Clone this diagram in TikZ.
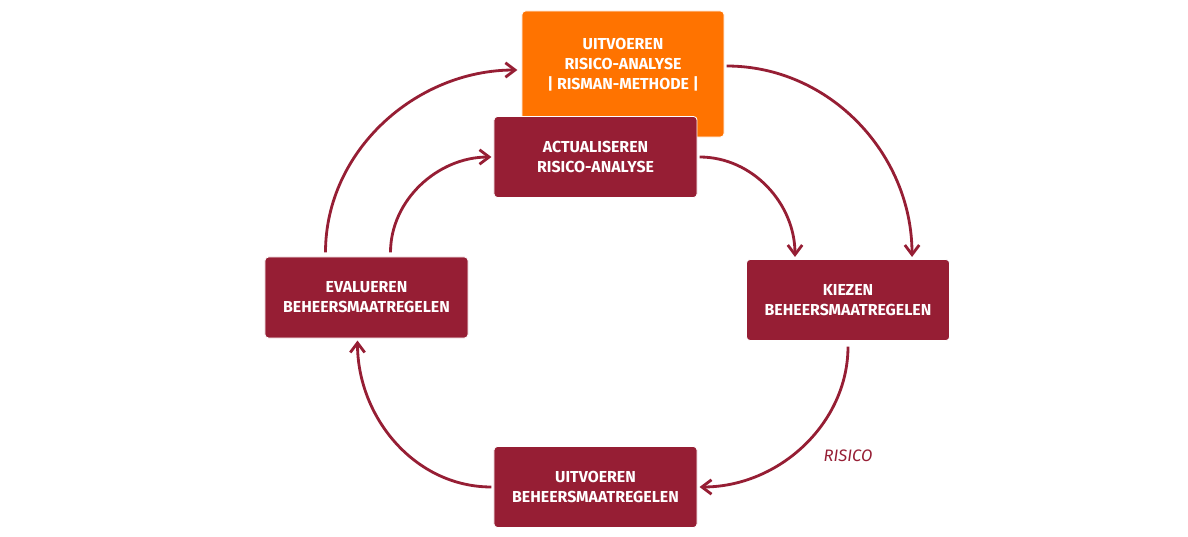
\documentclass[tikz,border=0pt]{standalone}
\usepackage{fontspec}
\setmainfont{Fira Sans}
\usetikzlibrary{arrows.meta}
\definecolor{risorange}{HTML}{FF7300}
\definecolor{risred}{HTML}{961E34}
\begin{document}
\begin{tikzpicture}[
	x=0.025cm, y=-0.025cm,
	% Define the styles for the boxes and arrows
	box/.style={rectangle, draw=white, line width=0.6pt, rounded corners=2.5pt, fill=risred,
		minimum width=5.075cm, minimum height=2.025cm},
	boxtext/.style={text=white, align=center, font=\bfseries\fontsize{11.3}{14.2}\selectfont},
	flow/.style={risred, line width=2pt, -{Straight Barb[length=2.4mm, width=3.6mm]},
		shorten <=1.5pt, shorten >=1.5pt}
	]
	\useasboundingbox (0,0) rectangle (1188,537);
	
	% --- BOXES ---
	% Format: \node (internal_name) at (x,y) [style] {text};
	
	\node (analyse) at (623,74) [box, fill=risorange, minimum width=5.05cm, minimum height=3.15cm] {};
	\node (analysetext) at (623,65) [boxtext] {UITVOEREN\\RISICO-ANALYSE\\| RISMAN-METHODE |};
	\node (actual) at (595.5,157) [box, boxtext] {ACTUALISEREN\\RISICO-ANALYSE};
	\node (kiezen) at (848,300) [box, boxtext] {KIEZEN\\BEHEERSMAATREGELEN};
	\node (uitvoer) at (595.5,487) [box, boxtext] {UITVOEREN\\BEHEERSMAATREGELEN};
	\node (evalueer) at (366.5,297.5) [box, boxtext] {EVALUEREN\\BEHEERSMAATREGELEN};
	
	% --- ARROWS ---
	
	\draw[flow] ([yshift=0.2cm]analyse.east) to[out=0, in=90] ([xshift=1.6cm]kiezen.north);
	\draw[flow] (actual.east) to[out=0, in=90] ([xshift=-1.325cm]kiezen.north);
	\draw[flow, shorten <=4pt] (kiezen.south) to[out=-90, in=0] (uitvoer.east);
	\draw[flow] (uitvoer.west) to[out=180, in=-90] ([xshift=-0.225cm]evalueer.south);
	\draw[flow, shorten <=3pt, shorten >=3pt] ([xshift=-1.025cm]evalueer.north) to[out=90, in=180] ([yshift=0.1cm]analyse.west);
	\draw[flow, shorten <=3pt] ([xshift=0.6cm]evalueer.north) to[out=90, in=180] (actual.west);
	
	\node (risico) at (848,456) [text=risred, font=\itshape\fontsize{11.8}{13}\selectfont] {RISICO};
	
\end{tikzpicture}
\end{document}
